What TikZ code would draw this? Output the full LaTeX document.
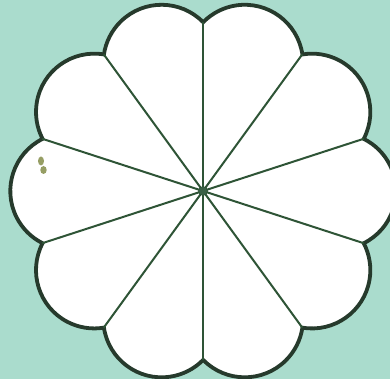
\documentclass[tikz,border=0pt]{standalone}
\definecolor{bgteal}{RGB}{170,220,205}
\definecolor{outline}{RGB}{38,58,44}
\definecolor{spoke}{RGB}{46,84,54}
\definecolor{hub}{RGB}{58,96,70}
\definecolor{smudge}{RGB}{150,158,100}
\tikzset{
  petals/.style={draw=outline, line width=3.8pt, fill=white, line join=miter},
  spokeline/.style={draw=spoke, line width=2pt},
  hubdot/.style={fill=hub, draw=spoke, line width=0.6pt}
}
\begin{document}
\begin{tikzpicture}
\fill[bgteal] (0,0) rectangle (390pt,379pt);
\useasboundingbox (0,0) rectangle (390pt,379pt);
\begin{scope}[shift={(203pt,188pt)}]
  \coordinate (O) at (0,0);
  \foreach \k in {0,...,9} {
    \coordinate (c\k) at ({18+36*\k}:169pt);
  }
  \path[petals] (c9) \foreach \t in {0,36,...,324} {
      arc[start angle=\t-63.5, end angle=\t+63.5, radius=58.3pt]
    } -- cycle;
  \foreach \k in {0,...,9} {
    \draw[spokeline] (O) -- (c\k);
  }
  \fill[hubdot] (O) circle (4.5pt);
\end{scope}
\fill[smudge] (41pt,218pt) ellipse (3pt and 4.5pt);
\fill[smudge] (43.5pt,209pt) ellipse (3.2pt and 4pt);
\end{tikzpicture}
\end{document}
